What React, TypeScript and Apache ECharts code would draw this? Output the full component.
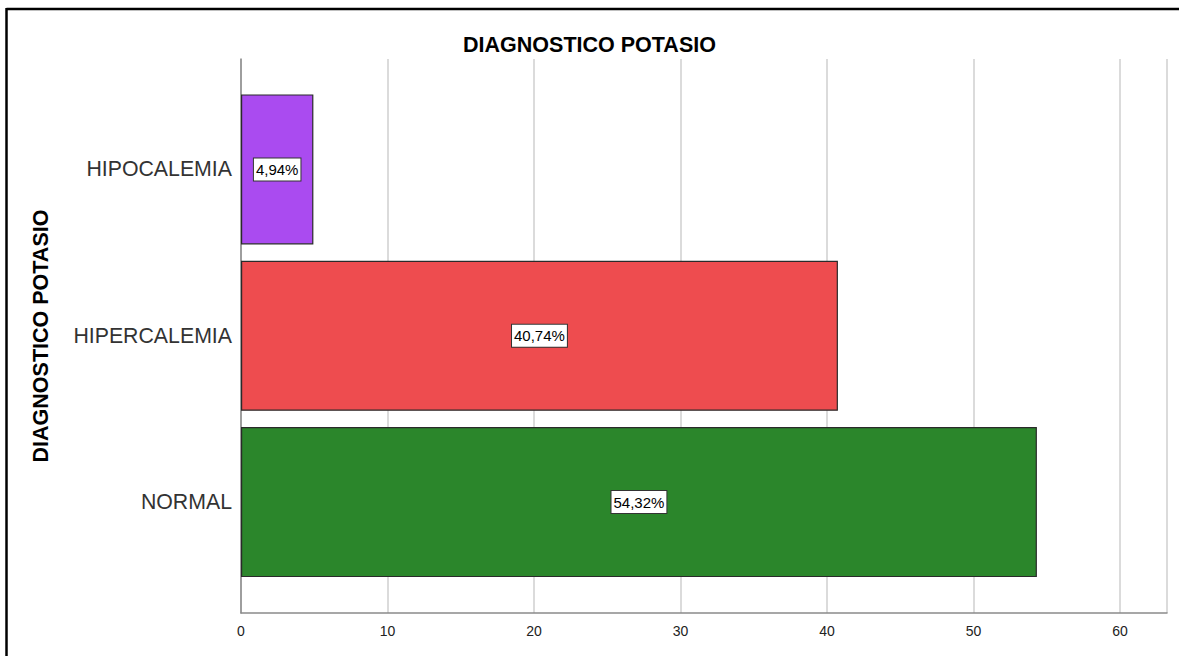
import React, { useEffect, useRef } from "react";
import * as echarts from "echarts";

const categories = ["HIPOCALEMIA", "HIPERCALEMIA", "NORMAL"];
const values = [4.94, 40.74, 54.32];
const barColors = ["#AA4BF0", "#EE4C4F", "#2B862B"];
const titleText = "DIAGNOSTICO POTASIO";
const axisTitle = "DIAGNOSTICO POTASIO";

const FONT = '"Liberation Sans", Arial, sans-serif';
const XMAX = 63.2;

export default function App() {
  const ref = useRef<HTMLDivElement>(null);
  useEffect(() => {
    document.body.style.margin = "0";
    const chart = echarts.init(ref.current!, null, { renderer: "svg" });
    chart.setOption({
      animation: false,
      backgroundColor: "#ffffff",
      textStyle: { fontFamily: FONT },
      title: {
        text: titleText,
        left: "center",
        top: 29,
        textStyle: { fontFamily: FONT, fontSize: 21.5, fontWeight: "bold", color: "#000" },
      },
      grid: [
        { left: 241, right: 12, top: 59, bottom: 43 },
        { left: 241, right: 12, top: 86.25, bottom: 656 - 585.25 },
      ],
      xAxis: [
        {
          gridIndex: 0,
          type: "value",
          min: 0,
          max: XMAX,
          interval: 10,
          axisLine: { show: true, lineStyle: { color: "#8a8a8a", width: 1.5 } },
          axisTick: { show: false },
          splitLine: { show: true, lineStyle: { color: "#cfcfcf", width: 1.5 } },
          axisLabel: {
            fontFamily: FONT,
            fontSize: 14,
            color: "#222",
            margin: 11,
            showMaxLabel: false,
            formatter: (v: number) => (v % 10 === 0 ? String(v) : ""),
          },
        },
        {
          gridIndex: 1,
          type: "value",
          min: 0,
          max: XMAX,
          show: false,
        },
      ],
      yAxis: [
        {
          gridIndex: 0,
          type: "value",
          min: 0,
          max: 1,
          axisLine: { show: true, lineStyle: { color: "#8a8a8a", width: 1.5 } },
          axisTick: { show: false },
          axisLabel: { show: false },
          splitLine: { show: false },
          name: axisTitle,
          nameLocation: "middle",
          nameRotate: 90,
          nameGap: 189,
          nameTextStyle: { fontFamily: FONT, fontSize: 21.5, fontWeight: "bold", color: "#000" },
        },
        {
          gridIndex: 1,
          type: "category",
          data: categories,
          inverse: true,
          axisLine: { show: false },
          axisTick: { show: false },
          axisLabel: { fontFamily: FONT, fontSize: 21.3, color: "#333", margin: 9 },
        },
      ],
      series: [
        {
          type: "bar",
          xAxisIndex: 1,
          yAxisIndex: 1,
          barWidth: 150,
          data: values.map((v, i) => ({
            value: v,
            itemStyle: { color: barColors[i], borderColor: "#2a2a2a", borderWidth: 1.2 },
          })),
          label: {
            show: true,
            position: "inside",
            formatter: (p: any) => p.value.toFixed(2).replace(".", ",") + "%",
            fontFamily: FONT,
            fontSize: 15,
            color: "#000",
            backgroundColor: "#ffffff",
            borderColor: "#333",
            borderWidth: 1,
            padding: [4, 2, 3, 2],
          },
        },
      ],
      graphic: [
        { type: "line", shape: { x1: 6.5, y1: 9, x2: 1179, y2: 9 }, style: { stroke: "#000", lineWidth: 2.5 } },
        { type: "line", shape: { x1: 6.5, y1: 8, x2: 6.5, y2: 656 }, style: { stroke: "#000", lineWidth: 2.5 } },
      ],
    });
    return () => chart.dispose();
  }, []);
  return <div ref={ref} style={{ width: 1179, height: 656 }} />;
}
